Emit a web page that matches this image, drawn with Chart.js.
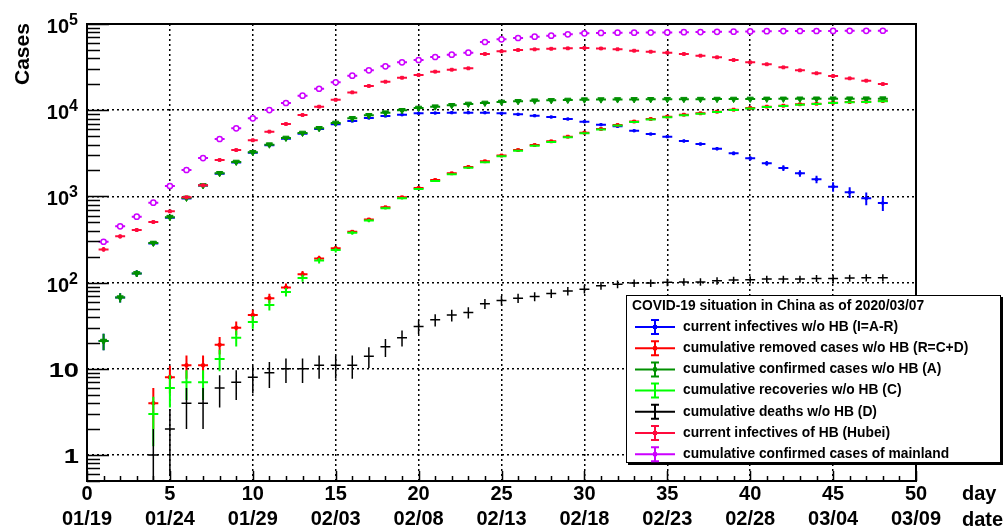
<!DOCTYPE html>
<html>
<head>
<meta charset="utf-8">
<script src="https://cdn.jsdelivr.net/npm/chart.js@4.4.1/dist/chart.umd.min.js"></script>
<style>
  html, body { margin: 0; padding: 0; background: #fff; }
  #wrap { width: 1005px; height: 529px; }
</style>
</head>
<body>
<div id="wrap"><canvas id="covidChart" width="1005" height="529"></canvas></div>
<script>
// =====================
// DATA (day 1 = 01/20/2020)
// =====================
const days = [1, 2, 3, 4, 5, 6, 7, 8, 9, 10, 11, 12, 13, 14, 15, 16, 17, 18, 19, 20, 21, 22, 23, 24,
  25, 26, 27, 28, 29, 30, 31, 32, 33, 34, 35, 36, 37, 38, 39, 40, 41, 42, 43, 44, 45, 46, 47, 48];

const dayTicks = [0, 5, 10, 15, 20, 25, 30, 35, 40, 45, 50];
const dateLabels = ["01/19", "01/24", "01/29", "02/03", "02/08", "02/13", "02/18", "02/23", "02/28", "03/04", "03/09"];

const yTickValues = [1, 10, 100, 1000, 10000, 100000];
const yTickBase = ["1", "10", "10", "10", "10", "10"];
const yTickExp = ["", "", "2", "3", "4", "5"];

// I = A - R (outside Hubei)
const currentNoHB = [21, 67, 128, 284, 567, 949, 1335, 1836, 2476, 3208, 3918, 4672, 5330, 6050, 6860, 7490,
  8120, 8570, 8870, 9200, 9280, 9360, 9360, 9360, 9200, 8960, 8630, 8340, 7905, 7360, 6790, 6500, 5780, 5290,
  4930, 4395, 4055, 3575, 3160, 2767, 2420, 2135, 1853, 1578, 1297, 1117, 951, 838];

// R = C + D (outside Hubei)
const removedNoHB = [null, null, null, 4, 8, 11, 11, 19, 30, 42, 66, 88, 125, 191, 250, 389, 540, 748, 977,
  1250, 1550, 1854, 2195, 2555, 2980, 3450, 3945, 4355, 4930, 5485, 6055, 6735, 7390, 7905, 8410, 8870, 9200,
  9610, 10140, 10610, 10990, 11280, 11700, 11890, 12220, 12450, 12560, 12790];

// A (outside Hubei)
const confirmedNoHB = [21, 67, 128, 288, 575, 960, 1340, 1855, 2506, 3250, 3984, 4760, 5440, 6170, 7110, 8060,
  8730, 9360, 9980, 10610, 10990, 11400, 11810, 12130, 12450, 12690, 12900, 13010, 13130, 13250, 13290, 13320,
  13350, 13380, 13400, 13420, 13440, 13460, 13480, 13500, 13520, 13540, 13560, 13570, 13580, 13590, 13600, 13610];

// C (outside Hubei)
const recoveredNoHB = [null, null, null, 3, 6, 7, 7, 13, 23, 35, 55, 78, 113, 180, 239, 378, 526, 730, 954,
  1219, 1513, 1812, 2150, 2498, 2918, 3384, 3876, 4280, 4850, 5401, 5963, 6640, 7292, 7806, 8309, 8768, 9098,
  9505, 10033, 10502, 10880, 11170, 11590, 11778, 12107, 12337, 12446, 12676];

// D (outside Hubei)
const deathsNoHB = [null, null, null, 1, 2, 4, 4, 6, 7, 8, 9, 10, 10, 11, 11, 11, 14, 18, 23, 31, 37, 42, 45,
  57, 62, 66, 69, 75, 80, 84, 92, 96, 99, 99, 101, 102, 102, 105, 107, 108, 110, 110, 110, 112, 112, 113, 114, 114];

// current infectives in Hubei
const currentHB = [243, 344, 408, 505, 671, 977, 1345, 2645, 3450, 4480, 5640, 6920, 8800, 10990, 13200, 16100,
  19100, 21400, 23800, 25600, 28000, 29500, 30600, 44900, 48200, 49900, 50800, 51600, 52200, 52700, 52000, 50900,
  49000, 47700, 46500, 44900, 42900, 41100, 38200, 35900, 34100, 31400, 29000, 26800, 24900, 23400, 22000, 20100];

// cumulative confirmed, mainland
const confirmedMainland = [298, 450, 582, 845, 1320, 2025, 2785, 4635, 6170, 8060, 10040, 12130, 14730, 17740,
  21080, 25140, 29030, 32300, 35940, 38230, 41420, 44030, 46460, 61840, 66400, 68800, 71300, 73200, 75900, 77900,
  78700, 79300, 79300, 79500, 79800, 80300, 80700, 81200, 81500, 82000, 82500, 82700, 82900, 83000, 83100, 83300,
  83400, 83500];

// =====================
// HELPERS
// =====================
const FONT = '"Liberation Sans", Arial, Helvetica, sans-serif';
const X_ERR = 0.3;

function points(values, errFn) {
  const out = [];
  values.forEach((v, i) => {
    if (v === null || v <= 0) return;
    out.push({ x: days[i], y: v, err: errFn(i) });
  });
  return out;
}

const poisson = arr => i => Math.sqrt(arr[i]);

function series(label, color, values, errFn, marker) {
  return Object.assign({
    label: label,
    data: points(values, errFn),
    borderColor: color,
    backgroundColor: color,
    barColor: color,
    barWidth: 2,
    pointRadius: 0,
    pointBorderWidth: 1,
    showLine: false
  }, marker);
}

const datasets = [
  series("current infectives w/o HB (I=A-R)", "#0000ff", currentNoHB,
    i => Math.sqrt(confirmedNoHB[i] + (removedNoHB[i] || 0)), { pointStyle: "rect", pointRadius: 1.6, order: 7 }),
  series("cumulative removed cases w/o HB (R=C+D)", "#ff0000", removedNoHB, poisson(removedNoHB),
    { pointStyle: "rect", pointRadius: 2, order: 6 }),
  series("cumulative confirmed cases w/o HB (A)", "#009000", confirmedNoHB, poisson(confirmedNoHB),
    { pointStyle: "triangle", rotation: 180, pointRadius: 3.6, order: 5 }),
  series("cumulative recoveries w/o HB (C)", "#00ff00", recoveredNoHB, poisson(recoveredNoHB), { order: 4 }),
  series("cumulative deaths w/o HB (D)", "#000000", deathsNoHB, poisson(deathsNoHB), { barWidth: 1.5, order: 3 }),
  series("current infectives of HB (Hubei)", "#ff0a3c", currentHB, poisson(currentHB),
    { pointStyle: "rect", pointRadius: 2, order: 2 }),
  series("cumulative confirmed cases of mainland", "#cc00ff", confirmedMainland, poisson(confirmedMainland),
    { pointStyle: "circle", pointRadius: 2.6, pointBorderWidth: 1.5, backgroundColor: "#ffffff", order: 1 })
];

// =====================
// PLUGINS
// =====================
const errorBars = {
  id: "errorBars",
  beforeDatasetDraw(chart, args) {
    const ds = chart.data.datasets[args.index];
    const xs = chart.scales.x, ys = chart.scales.y;
    const area = chart.chartArea;
    const ctx = chart.ctx;
    ctx.save();
    ctx.beginPath();
    ctx.rect(area.left, area.top, area.right - area.left, area.bottom - area.top);
    ctx.clip();
    ctx.strokeStyle = ds.barColor;
    ctx.lineWidth = ds.barWidth;
    ctx.beginPath();
    ds.data.forEach(p => {
      const px = xs.getPixelForValue(p.x);
      const py = ys.getPixelForValue(p.y);
      const lo = p.y - p.err;
      const yLo = lo > ys.min ? ys.getPixelForValue(lo) : area.bottom;
      const yHi = ys.getPixelForValue(Math.min(p.y + p.err, ys.max));
      ctx.moveTo(xs.getPixelForValue(p.x - X_ERR), py);
      ctx.lineTo(xs.getPixelForValue(p.x + X_ERR), py);
      ctx.moveTo(px, yHi);
      ctx.lineTo(px, yLo);
    });
    ctx.stroke();
    ctx.restore();
  }
};

const rootAxes = {
  id: "rootAxes",
  afterDraw(chart) {
    const ctx = chart.ctx;
    const xs = chart.scales.x, ys = chart.scales.y;
    const a = chart.chartArea;
    ctx.save();
    ctx.strokeStyle = "#000";
    ctx.lineWidth = 1.5;
    ctx.beginPath();
    // y ticks inside the frame
    for (let e = -1; e <= 5; e++) {
      for (let k = 1; k <= 9; k++) {
        const v = k * Math.pow(10, e);
        if (v < ys.min || v > ys.max) continue;
        const py = Math.round(ys.getPixelForValue(v)) + 0.5;
        ctx.moveTo(a.left, py);
        ctx.lineTo(a.left + (k === 1 ? 22 : 13), py);
      }
    }
    // x ticks inside the frame
    for (let d = 0; d <= 50; d++) {
      const px = Math.round(xs.getPixelForValue(d)) + 0.5;
      ctx.moveTo(px, a.bottom);
      ctx.lineTo(px, a.bottom - (d % 5 === 0 ? 10 : 5));
    }
    ctx.stroke();
    // frame
    ctx.lineWidth = 2;
    ctx.strokeRect(a.left, a.top, a.right - a.left, a.bottom - a.top);

    // y tick labels
    ctx.fillStyle = "#000";
    ctx.textAlign = "right";
    ctx.textBaseline = "alphabetic";
    yTickValues.forEach((v, i) => {
      const py = ys.getPixelForValue(v);
      if (yTickExp[i]) {
        ctx.font = "bold 16px " + FONT;
        ctx.fillText(yTickExp[i], 78, py + 1);
        const ew = ctx.measureText(yTickExp[i]).width;
        ctx.font = "bold 20px " + FONT;
        ctx.fillText(yTickBase[i], 78 - ew, py + 9);
      } else {
        ctx.save();
        ctx.translate(79, py + 8);
        ctx.scale(1.3, 1);
        ctx.font = "bold 21px " + FONT;
        ctx.fillText(yTickBase[i], 0, 0);
        ctx.restore();
      }
    });

    // axis titles
    ctx.save();
    ctx.translate(29, 85);
    ctx.rotate(-Math.PI / 2);
    ctx.textAlign = "left";
    ctx.font = "bold 21px " + FONT;
    ctx.fillText("Cases", 0, 0);
    ctx.restore();

    ctx.textAlign = "left";
    ctx.textBaseline = "middle";
    ctx.font = "bold 20px " + FONT;
    ctx.fillText("day", 962, 494);
    ctx.fillText("date", 962, 520);
    ctx.restore();

    drawLegend(ctx);
  }
};

function drawLegend(ctx) {
  const bx = 626, by = 295, bw = 375, bh = 168;
  ctx.save();
  ctx.fillStyle = "#000";
  ctx.fillRect(bx + 2, by + 2, bw, bh);
  ctx.fillStyle = "#fff";
  ctx.fillRect(bx, by, bw, bh);
  ctx.strokeStyle = "#000";
  ctx.lineWidth = 1;
  ctx.strokeRect(bx + 0.5, by + 0.5, bw - 1, bh - 1);

  ctx.fillStyle = "#000";
  ctx.textAlign = "left";
  ctx.textBaseline = "middle";
  ctx.font = "bold 13.8px " + FONT;
  ctx.fillText("COVID-19 situation in China as of 2020/03/07", 632, 306);

  datasets.forEach((ds, i) => {
    const cy = 327 + i * 21.2;
    const cx = 655;
    ctx.strokeStyle = ds.barColor;
    ctx.lineWidth = 2;
    ctx.beginPath();
    ctx.moveTo(635, cy); ctx.lineTo(675, cy);
    ctx.moveTo(cx, cy - 7); ctx.lineTo(cx, cy + 7);
    ctx.moveTo(cx - 4, cy - 7); ctx.lineTo(cx + 4, cy - 7);
    ctx.moveTo(cx - 4, cy + 7); ctx.lineTo(cx + 4, cy + 7);
    ctx.stroke();
    if (ds.pointRadius > 0) {
      ctx.fillStyle = ds.barColor;
      ctx.fillRect(cx - 2, cy - 2, 4, 4);
    }
    ctx.fillStyle = "#000";
    ctx.fillText(ds.label, 683, cy);
  });
  ctx.restore();
}

// =====================
// CHART
// =====================
const gridColor = hidden => ctx => (ctx.tick && hidden.includes(ctx.tick.value)) ? "rgba(0,0,0,0)" : "#000";

new Chart(document.getElementById("covidChart"), {
  type: "scatter",
  data: { datasets: datasets },
  options: {
    responsive: false,
    animation: false,
    devicePixelRatio: 1,
    layout: { padding: { top: 24, right: 89, left: 0, bottom: 0 } },
    plugins: {
      legend: { display: false },
      tooltip: { enabled: false }
    },
    scales: {
      x: {
        type: "linear",
        min: 0,
        max: 50,
        afterBuildTicks: s => { s.ticks = dayTicks.map(v => ({ value: v })); },
        afterFit: s => { s.height = 48; },
        ticks: {
          padding: 1,
          maxRotation: 0,
          autoSkip: false,
          color: "#000",
          font: { family: FONT, size: 20, weight: "bold", lineHeight: 1.25 },
          callback: v => [String(v), dateLabels[dayTicks.indexOf(v)]]
        },
        grid: { drawTicks: false, lineWidth: 1.5, color: gridColor([0, 50]) },
        border: { display: false, dash: [2, 3] }
      },
      y: {
        type: "logarithmic",
        min: 0.5,
        max: 100000,
        afterBuildTicks: s => { s.ticks = yTickValues.map(v => ({ value: v })); },
        afterFit: s => { s.width = 87; },
        ticks: { display: false },
        grid: { drawTicks: false, lineWidth: 1.5, color: gridColor([100000]) },
        border: { display: false, dash: [2, 3] }
      }
    }
  },
  plugins: [errorBars, rootAxes]
});
</script>
</body>
</html>
